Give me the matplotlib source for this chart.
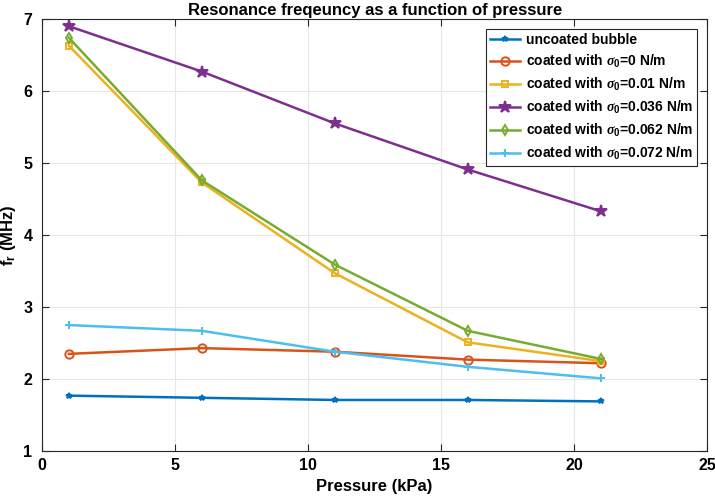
import matplotlib.pyplot as plt

plt.rcParams['font.family'] = ['Liberation Sans', 'DejaVu Sans']
plt.rcParams['font.weight'] = 'bold'
plt.rcParams['mathtext.fontset'] = 'custom'
plt.rcParams['mathtext.it'] = 'Liberation Serif:italic'
plt.rcParams['mathtext.rm'] = 'Liberation Sans:bold'

# data
pressure = [1, 6, 11, 16, 21]
uncoated = [1.77, 1.74, 1.71, 1.71, 1.69]
sigma_0 = [2.35, 2.43, 2.38, 2.27, 2.22]
sigma_001 = [6.63, 4.73, 3.47, 2.51, 2.25]
sigma_0036 = [6.90, 6.27, 5.55, 4.91, 4.33]
sigma_0062 = [6.74, 4.76, 3.59, 2.67, 2.28]
sigma_0072 = [2.75, 2.67, 2.38, 2.17, 2.01]

labels = ["uncoated bubble",
          r"coated with $\mathit{\sigma}_\mathregular{0}$=0 N/m",
          r"coated with $\mathit{\sigma}_\mathregular{0}$=0.01 N/m",
          r"coated with $\mathit{\sigma}_\mathregular{0}$=0.036 N/m",
          r"coated with $\mathit{\sigma}_\mathregular{0}$=0.062 N/m",
          r"coated with $\mathit{\sigma}_\mathregular{0}$=0.072 N/m"]

series = [uncoated, sigma_0, sigma_001, sigma_0036, sigma_0062, sigma_0072]
colors = ["#0072BD", "#D95319", "#EDB120", "#7E2F8E", "#77AC30", "#4DBEEE"]
markers = ["*", "o", "s", "*", "d", "+"]
msizes = [4, 6, 5, 9, 5, 6]

fig = plt.figure(figsize=(7.15, 4.99), dpi=100)
ax = fig.add_axes([0.059, 0.096, 0.930, 0.866])

for data, lab, col, mk, ms in zip(series, labels, colors, markers, msizes):
    ax.plot(pressure, data, color=col, marker=mk, markersize=ms, linewidth=1.8,
            markerfacecolor="none" if mk in ("o", "s", "d") else col,
            markeredgewidth=1.4, label=lab)

ax.set_xlim(0, 25)
ax.set_ylim(1, 7)
ax.set_xticks([0, 5, 10, 15, 20, 25])
ax.set_yticks([1, 2, 3, 4, 5, 6, 7])
ax.grid(True, color="#e6e6e6", linewidth=0.8)
ax.set_axisbelow(True)
ax.tick_params(direction="in", top=True, right=True, labelsize=11.5, length=5,
               color="#262626")
ax.tick_params(axis="y", pad=7)
ax.tick_params(axis="x", pad=5)
for s in ax.spines.values():
    s.set_color("#262626")
    s.set_linewidth(0.8)

ax.set_title("Resonance freqeuncy as a function of pressure", fontsize=12,
             fontweight="bold", pad=3)
ax.set_xlabel("Pressure (kPa)", fontsize=12, fontweight="bold", labelpad=4)
ax.set_ylabel(r"f$_\mathregular{r}$ (MHz)", fontsize=12, fontweight="bold",
              labelpad=4)

leg = ax.legend(loc="upper right", fontsize=10, frameon=True, fancybox=False,
                edgecolor="#262626", framealpha=1, handlelength=2.2,
                borderaxespad=0.7, labelspacing=0.42, handletextpad=0.4,
                borderpad=0.3)
leg.get_frame().set_linewidth(0.8)

fig.savefig("out.png", dpi=100)
